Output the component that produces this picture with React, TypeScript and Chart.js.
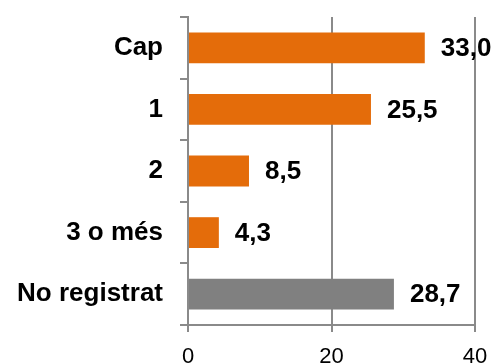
import React, { useEffect, useRef } from "react";
import { Chart, registerables } from "chart.js";

Chart.register(...registerables);

// Categories on the vertical axis and their percentages
const categories = ["Cap", "1", "2", "3 o més", "No registrat"];
const values = [33.0, 25.5, 8.5, 4.3, 28.7];
const barColors = ["#E46C0A", "#E46C0A", "#E46C0A", "#E46C0A", "#808080"];
const xTickValues = [0, 20, 40];

const FONT = '"Liberation Sans", Arial, Helvetica, sans-serif';
const AXIS_GREY = "#8a8a8a";

const fmt = (v: number) => v.toFixed(1).replace(".", ",");

// Draws the value next to the end of each bar
const valueLabels = {
  id: "valueLabels",
  afterDatasetsDraw(chart: any) {
    const ctx = chart.ctx;
    const meta = chart.getDatasetMeta(0);
    ctx.save();
    ctx.font = `bold 26px ${FONT}`;
    ctx.fillStyle = "#000";
    ctx.textAlign = "left";
    ctx.textBaseline = "middle";
    meta.data.forEach((el: any, i: number) => {
      ctx.fillText(fmt(values[i]), el.x + 16, el.y + 1);
    });
    ctx.restore();
  },
};

export default function App() {
  const canvasRef = useRef<HTMLCanvasElement | null>(null);

  useEffect(() => {
    if (!canvasRef.current) return;
    Chart.defaults.font.family = FONT;
    const chart = new Chart(canvasRef.current, {
      type: "bar",
      data: {
        labels: categories,
        datasets: [
          {
            data: values,
            backgroundColor: barColors,
            borderWidth: 0,
            categoryPercentage: 1,
            barPercentage: 0.5,
          },
        ],
      },
      options: {
        indexAxis: "y",
        responsive: false,
        animation: false,
        layout: { padding: { top: 17, right: 20, left: 0, bottom: 0 } },
        plugins: {
          legend: { display: false },
          tooltip: { enabled: false },
        },
        scales: {
          x: {
            min: 0,
            max: 40,
            afterBuildTicks(scale: any) {
              scale.ticks = xTickValues.map((v) => ({ value: v }));
            },
            afterFit(scale: any) {
              scale.height = 38;
              scale.paddingLeft = 0;
              scale.paddingRight = 0;
            },
            grid: {
              color: AXIS_GREY,
              lineWidth: 2,
              tickLength: 7,
              drawTicks: true,
            },
            border: { display: true, color: AXIS_GREY, width: 2 },
            ticks: {
              color: "#000",
              padding: 12,
              font: { size: 22, family: FONT },
              maxRotation: 0,
            },
          },
          y: {
            afterFit(scale: any) {
              scale.width = 188;
              scale.paddingTop = 0;
              scale.paddingBottom = 0;
            },
            grid: {
              drawOnChartArea: false,
              drawTicks: true,
              tickLength: 8,
              color: AXIS_GREY,
              lineWidth: 2,
              offset: true,
            },
            border: { display: true, color: AXIS_GREY, width: 2 },
            ticks: {
              color: "#000",
              padding: 17,
              font: { size: 26, weight: "bold", family: FONT },
            },
          },
        },
      },
      plugins: [valueLabels],
    } as any);
    return () => chart.destroy();
  }, []);

  return (
    <div style={{ position: "absolute", left: 0, top: 0, width: 495, height: 363, background: "#fff" }}>
      <canvas ref={canvasRef} width={495} height={363} />
    </div>
  );
}
